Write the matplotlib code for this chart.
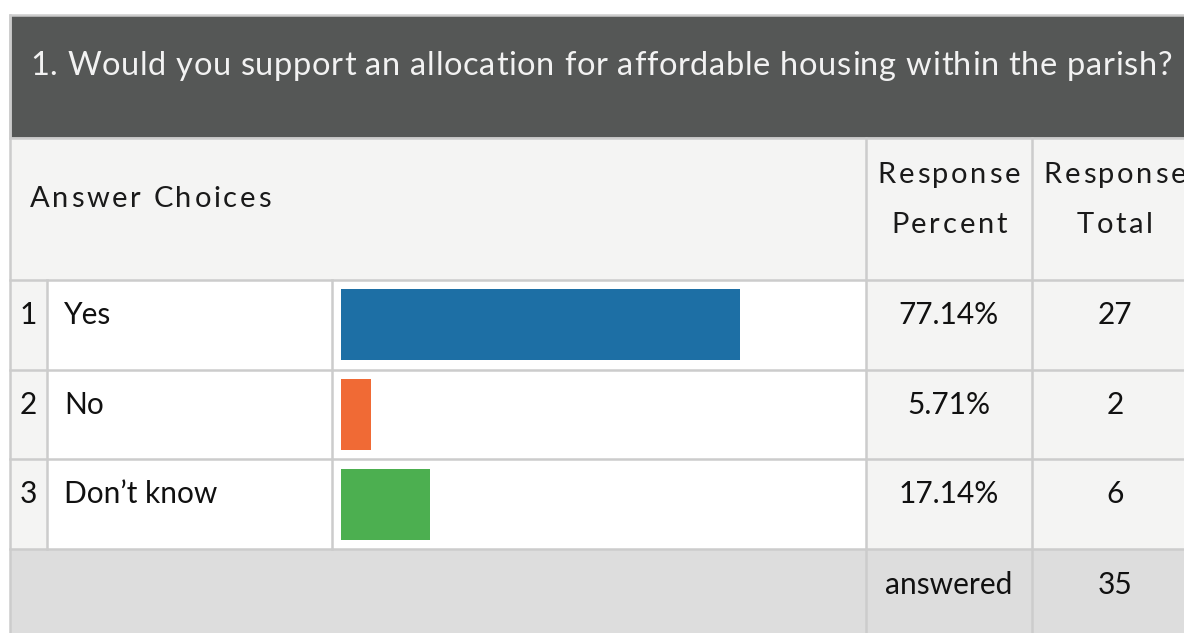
import matplotlib
matplotlib.use("Agg")
from matplotlib import pyplot as plt
from matplotlib.patches import Rectangle
from matplotlib.font_manager import FontProperties

# survey data
question = "1. Would you support an allocation for affordable housing within the parish?"
choices = ["Yes", "No", "Don\u2019t know"]
percents = [77.14, 5.71, 17.14]
totals = [27, 2, 6]
answered = 35
bar_colors = ["#1d6fa5", "#f06a35", "#4caf50"]

plt.rcParams['font.family'] = ['Lato', 'DejaVu Sans']

W, H = 1184, 633
fig = plt.figure(figsize=(W / 100, H / 100), dpi=100)
ax = fig.add_axes([0, 0, 1, 1])
ax.set_xlim(0, W)
ax.set_ylim(H, 0)
ax.axis('off')
renderer = fig.canvas.get_renderer()


def tracked_text(x, y, s, size, track, ha='left', color='#111111'):
    # draw text letter by letter, with extra spacing between letters
    fp = FontProperties(family=plt.rcParams['font.family'], size=size)
    widths = [renderer.get_text_width_height_descent(s[:i], fp, ismath=False)[0] if i else 0
              for i in range(len(s) + 1)]
    total = widths[-1] + track * (len(s) - 1)
    x0 = x if ha == 'left' else x - total / 2
    for i, ch in enumerate(s):
        if ch == ' ':
            continue
        ax.text(x0 + widths[i] + track * i, y, ch, fontproperties=fp,
                ha='left', va='baseline', color=color)


line_c = "#cccccc"
light = "#f4f4f3"

## table backgrounds
ax.add_patch(Rectangle((10, 15), W, 123, facecolor="#555756", edgecolor=line_c, lw=1.8))
ax.add_patch(Rectangle((10, 138), W, 142, facecolor=light, edgecolor="none"))
row_top = [280, 370, 459]
row_h = 89.67
for y0 in row_top:
    ax.add_patch(Rectangle((10, y0), 37, row_h, facecolor=light, edgecolor="none"))
    ax.add_patch(Rectangle((47, y0), 819, row_h, facecolor="white", edgecolor="none"))
    ax.add_patch(Rectangle((866, y0), W, row_h, facecolor=light, edgecolor="none"))
ax.add_patch(Rectangle((10, 549), W, 90, facecolor="#dddddd", edgecolor="none"))

## grid lines
for y in [138, 280, 370, 459, 549]:
    ax.plot([10, W], [y, y], color=line_c, lw=1.8)
ax.plot([10, 10], [15, H], color=line_c, lw=1.8)
for x in [47, 332]:
    ax.plot([x, x], [280, 549], color=line_c, lw=1.8)
for x in [866, 1032]:
    ax.plot([x, x], [138, H], color=line_c, lw=1.8)

## header texts
tracked_text(30, 75, question, 23.5, 0.7, color="#f2f2f2")
tracked_text(30, 207, "Answer Choices", 21, 2.6, color="#1a1a1a")
tracked_text(949, 183, "Response", 21, 2.7, ha='center', color="#1a1a1a")
tracked_text(949, 233, "Percent", 21, 2.7, ha='center', color="#1a1a1a")
tracked_text(1115, 183, "Response", 21, 2.7, ha='center', color="#1a1a1a")
tracked_text(1115, 233, "Total", 21, 2.7, ha='center', color="#1a1a1a")

## rows
body = dict(fontsize=21.5, va="baseline", color="#111111")
for i, (c, p, t) in enumerate(zip(choices, percents, totals)):
    yb = row_top[i] + 44
    ax.text(28, yb, str(i + 1), ha="center", **body)
    ax.text(64, yb, c, ha="left", **body)
    ax.text(949, yb, "%.2f%%" % p, ha="center", **body)
    ax.text(1115, yb, str(t), ha="center", **body)

ax.text(949, 594, "answered", ha="center", **body)
ax.text(1115, 594, str(answered), ha="center", **body)

## bars in their own axes
bx0, bx1, by0, by1 = 341, 858, 280, 549
bax = fig.add_axes([bx0 / W, 1 - by1 / H, (bx1 - bx0) / W, (by1 - by0) / H])
bax.barh([0.5, 1.5, 2.5], percents, height=71 / row_h, color=bar_colors)
bax.set_xlim(0, 100)
bax.set_ylim(3, 0)
bax.axis('off')

plt.savefig('out.png', dpi=100)
